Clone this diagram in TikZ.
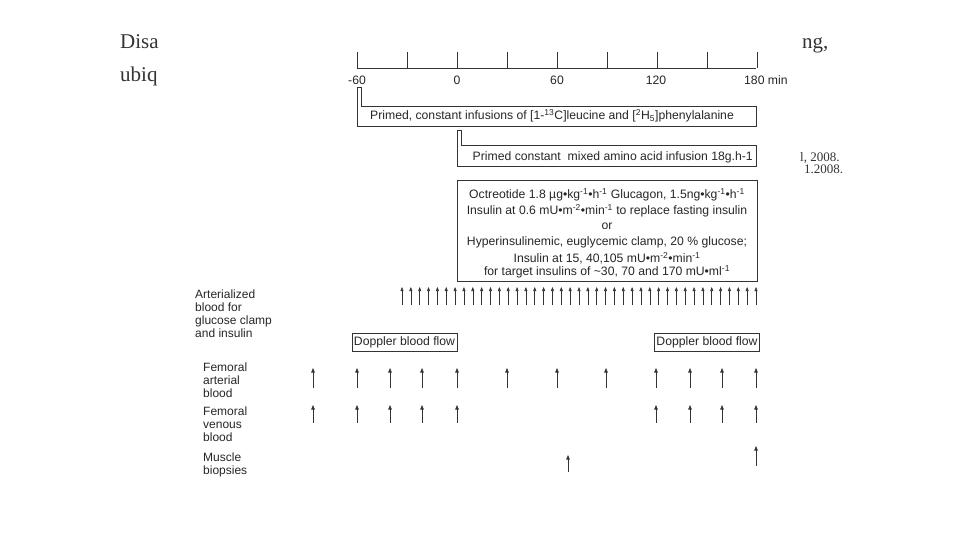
\documentclass[tikz,border=0pt]{standalone}
\usepackage{fontspec}
\setmainfont{Liberation Sans}
\newfontfamily\slidefont{Liberation Serif}
\usetikzlibrary{arrows.meta}

\tikzset{
  lbl/.style={font=\fontsize{12.2}{14}\selectfont, inner sep=0pt, text=black!85},
  rowlbl/.style={font=\fontsize{12}{12.8}\selectfont, inner sep=0pt, align=left, anchor=north west, text=black!85},
  tick/.style={draw=black!80, line width=0.8pt},
  bracket/.style={draw=black!80, line width=0.8pt},
  dopbox/.style={lbl, draw=black!80, line width=0.8pt, minimum width=105pt, minimum height=18pt, inner sep=1pt},
  sample/.style={-{Triangle[length=4.5pt,width=3.5pt]}, draw=black!80, line width=0.6pt},
  smallsample/.style={-{Triangle[length=4pt,width=3pt]}, draw=black!80, line width=0.55pt},
  slide/.style={font=\slidefont\fontsize{21}{24}\selectfont, anchor=base west, inner sep=0pt, text=black!80},
  slidesmall/.style={font=\slidefont\fontsize{13}{15}\selectfont, anchor=base west, inner sep=0pt, text=black!80}
}

\begin{document}
\begin{tikzpicture}[x=1pt,y=-1pt]
\useasboundingbox (0,0) rectangle (960,540);

% slide text behind the figure
\node[slide] (disa) at (120,49) {Disa};
\node[slide] (ubiq) at (120,82) {ubiq};
\node[slide] (ng) at (802,49) {ng,};
\node[slidesmall] (ref1) at (800,161) {l, 2008.};
\node[slidesmall] (ref2) at (804,174) {1.2008.};

% time axis
\draw[tick] (357,68) -- (756,68);
\foreach \t in {-60,-30,...,180}
  \draw[tick] ({457+\t*5/3},52) -- ({457+\t*5/3},68);
\node[lbl] (tm60) at (357,80) {-60};
\node[lbl] (t0) at (457,80) {0};
\node[lbl] (t60) at (557,80) {60};
\node[lbl, anchor=west] (t180) at (744,80) {180 min};
\node[lbl] (t120) at (656,80) {120};

% tracer infusion
\draw[bracket] (357,87) -- (357,126) -- (756,126) -- (756,106) -- (361,106) -- (361,87) -- cycle;
\node[lbl] (tracer) at (552,116) {Primed, constant infusions of [1-\textsuperscript{13}C]leucine and [\textsuperscript{2}H\textsubscript{5}]phenylalanine};

% amino acid infusion
\draw[bracket] (457,130) -- (457,166) -- (756,166) -- (756,145) -- (461,145) -- (461,130) -- cycle;
\node[lbl, anchor=east] (amino) at (753,157) {Primed constant\ \ mixed amino acid infusion 18g.h-1};

% clamp box
\draw[bracket] (457,180) rectangle (757,281);
\node[lbl] (oct) at (607,195) {Octreotide 1.8 µg•kg\textsuperscript{-1}•h\textsuperscript{-1} Glucagon, 1.5ng•kg\textsuperscript{-1}•h\textsuperscript{-1}};
\node[lbl] (ins) at (607,211) {Insulin at 0.6 mU•m\textsuperscript{-2}•min\textsuperscript{-1} to replace fasting insulin};
\node[lbl] (or) at (607,226) {or};
\node[lbl] (hyper) at (607,242) {Hyperinsulinemic, euglycemic clamp, 20 \% glucose;};
\node[lbl] (ins2) at (607,258) {Insulin at 15, 40,105 mU•m\textsuperscript{-2}•min\textsuperscript{-1}};
\node[lbl] (target) at (607,272) {for target insulins of \textasciitilde30, 70 and 170 mU•ml\textsuperscript{-1}};

% row labels
\node[rowlbl] (art) at (195,290) {Arterialized\\blood for\\glucose clamp\\and insulin};
\node[rowlbl] (femart) at (203,363) {Femoral\\arterial\\blood};
\node[rowlbl] (femven) at (203,407) {Femoral\\venous\\blood};
\node[rowlbl] (musc) at (203,453) {Muscle\\biopsies};

% arterialized samples
\foreach \i in {0,...,40}
  \draw[smallsample] ({402+\i*8.85},305) -- ++(0,-18);

% doppler
\node[dopbox] (dop1) at (404.5,342) {Doppler blood flow};
\node[dopbox] (dop2) at (707,342) {Doppler blood flow};

% femoral arterial samples
\foreach \x in {313,357,390,422,457,507,557,606,656,690,722,756}
  \draw[sample] (\x,388) -- ++(0,-20);
% femoral venous samples
\foreach \x in {313,357,390,422,457,656,690,722,756}
  \draw[sample] (\x,423) -- ++(0,-18);
% biopsies
\draw[sample] (568,472) -- ++(0,-17);
\draw[sample] (756,466) -- ++(0,-20);
\end{tikzpicture}
\end{document}
